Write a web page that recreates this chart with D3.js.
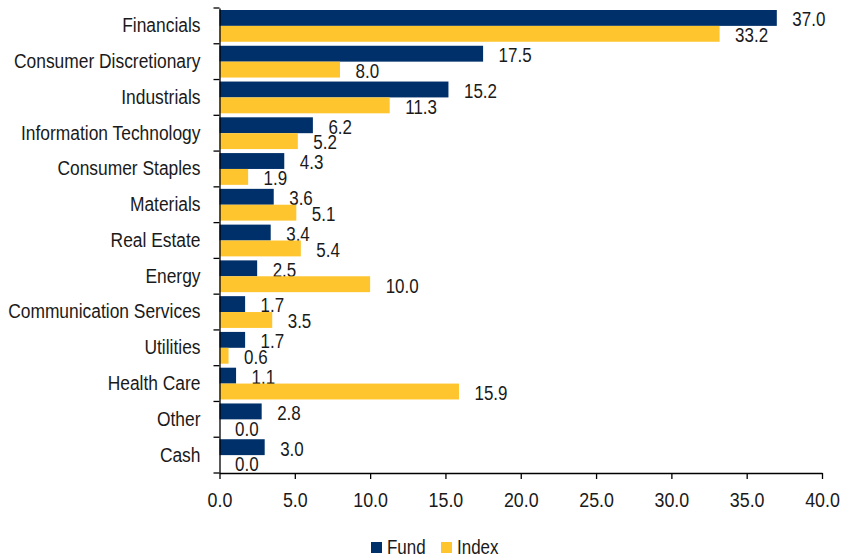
<!DOCTYPE html>
<html>
<head>
<meta charset="utf-8">
<script src="https://cdn.jsdelivr.net/npm/d3@7"></script>
<style>
  body { margin: 0; background: #fff; }
  text { font-family: "Liberation Sans", Arial, sans-serif; fill: #1a1a1a; }
</style>
</head>
<body>
<div id="container"></div>
<script>
/* DATA */
const categories = ["Financials", "Consumer Discretionary", "Industrials", "Information Technology",
  "Consumer Staples", "Materials", "Real Estate", "Energy", "Communication Services",
  "Utilities", "Health Care", "Other", "Cash"];
const fundValues = [37.0, 17.5, 15.2, 6.2, 4.3, 3.6, 3.4, 2.5, 1.7, 1.7, 1.1, 2.8, 3.0];
const indexValues = [33.2, 8.0, 11.3, 5.2, 1.9, 5.1, 5.4, 10.0, 3.5, 0.6, 15.9, 0.0, 0.0];
const seriesNames = ["Fund", "Index"];
const xTicks = [0, 5, 10, 15, 20, 25, 30, 35, 40];

/* CONSTANTS */
const width = 843;
const height = 558;
const plotLeft = 219.5, plotRight = 822, plotTop = 8, plotBottom = 473;
const colors = { Fund: "#00306a", Index: "#ffc52f" };
const squeeze = 0.87; // the original type is a bit narrow / tall

const svg = d3.select("#container")
  .append("svg")
  .attr("width", width)
  .attr("height", height);

const x = d3.scaleLinear().domain([0, 40]).range([plotLeft, plotRight]);
const y = d3.scaleBand().domain(categories).range([plotTop, plotBottom]);
const barH = (y.bandwidth() - 4) / 2;

// rows: one entry per category
const rows = categories.map((c, i) => ({ cat: c, Fund: fundValues[i], Index: indexValues[i] }));

// place a text at (px, py) with the narrow look
const narrowAt = (px, py) => `translate(${px},${py}) scale(${squeeze},1)`;

/* BARS */
seriesNames.forEach((s, k) => {
  svg.selectAll(".bar-" + s)
    .data(rows)
    .enter()
    .append("rect")
    .attr("x", x(0))
    .attr("y", d => y(d.cat) + 2 + k * barH)
    .attr("width", d => x(d[s]) - x(0))
    .attr("height", barH)
    .attr("fill", colors[s]);

  svg.selectAll(".label-" + s)
    .data(rows)
    .enter()
    .append("text")
    .attr("transform", d => narrowAt(x(d[s]) + 15.5, y(d.cat) + 2 + k * barH + barH / 2 + 1.5))
    .attr("dy", "0.35em")
    .style("font-size", "19.5px")
    .text(d => d[s].toFixed(1));
});

/* AXES */
const yAxis = svg.append("g")
  .attr("transform", `translate(${plotLeft},0)`)
  .call(d3.axisLeft(y).tickSize(0).tickPadding(19).tickSizeOuter(0));
yAxis.select(".domain").attr("stroke", "#000").attr("stroke-width", 1.3);
yAxis.selectAll("text")
  .style("font-size", "20px")
  .attr("fill", "#1a1a1a")
  .attr("x", -19 / squeeze)
  .attr("transform", `scale(${squeeze},1)`);

// category boundary ticks on the left axis
svg.append("g")
  .selectAll("line")
  .data(d3.range(categories.length + 1))
  .enter()
  .append("line")
  .attr("x1", plotLeft - 6)
  .attr("x2", plotLeft)
  .attr("y1", i => plotTop + i * y.step())
  .attr("y2", i => plotTop + i * y.step())
  .attr("stroke", "#000")
  .attr("stroke-width", 1.3);

const xAxis = svg.append("g")
  .attr("transform", `translate(0,${plotBottom})`)
  .call(d3.axisBottom(x).tickValues(xTicks).tickFormat(d3.format(".1f")).tickSize(6).tickSizeOuter(0).tickPadding(13));
xAxis.select(".domain").attr("stroke", "#000").attr("stroke-width", 1.3);
xAxis.selectAll(".tick line").attr("stroke", "#000").attr("stroke-width", 1.3);
xAxis.selectAll("text")
  .style("font-size", "20.5px")
  .attr("fill", "#1a1a1a")
  .attr("transform", `scale(${squeeze},1)`);

/* LEGEND */
const legendItems = [{ name: "Fund", x: 371 }, { name: "Index", x: 441 }];
const legend = svg.append("g");
legend.selectAll("rect")
  .data(legendItems)
  .enter()
  .append("rect")
  .attr("x", d => d.x)
  .attr("y", 542)
  .attr("width", 11)
  .attr("height", 11)
  .attr("fill", d => colors[d.name]);
legend.selectAll("text")
  .data(legendItems)
  .enter()
  .append("text")
  .attr("transform", d => narrowAt(d.x + 16, 547))
  .attr("dy", "0.35em")
  .style("font-size", "19.5px")
  .text(d => d.name);
</script>
</body>
</html>
